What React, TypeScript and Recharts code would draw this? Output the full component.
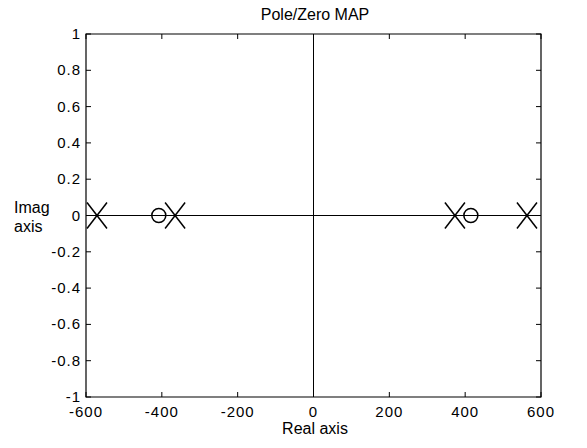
import React from 'react';
import { ScatterChart, Scatter, XAxis, YAxis, ReferenceLine, ReferenceArea } from 'recharts';

const xTicks = [-600, -400, -200, 0, 200, 400, 600];
const yTicks = [-1, -0.8, -0.6, -0.4, -0.2, 0, 0.2, 0.4, 0.6, 0.8, 1];
const poleReal = [-571, -365, 373, 563];
const poleImag = [0, 0, 0, 0];
const zeroReal = [-408, 415];
const zeroImag = [0, 0];
const titleText = 'Pole/Zero MAP';
const xLabelText = 'Real axis';
const yLabelLines = ['Imag', 'axis'];

const poles = poleReal.map((x, i) => ({ x, y: poleImag[i] }));
const zeros = zeroReal.map((x, i) => ({ x, y: zeroImag[i] }));

const W = 587;
const H = 448;
const M_TOP = 34;
const M_RIGHT = 46;
const Y_AXIS_W = 86;
const X_AXIS_H = 51;
const PLOT_TOP = M_TOP;
const PLOT_RIGHT = W - M_RIGHT;
const FONT = "'Liberation Sans', Arial, Helvetica, sans-serif";
const TICK_LEN = 5;
const fmt = (v: number) => String(v);

const BottomTick = (p: any) => (
  <g>
    <line x1={p.x} y1={p.y} x2={p.x} y2={p.y - TICK_LEN} stroke="#000" strokeWidth={1} />
    <line x1={p.x} y1={PLOT_TOP} x2={p.x} y2={PLOT_TOP + TICK_LEN} stroke="#000" strokeWidth={1} />
    <text x={p.x} y={p.y + 20} textAnchor="middle" fontFamily={FONT} fontSize={15} letterSpacing={1} fill="#000">
      {fmt(p.payload.value)}
    </text>
  </g>
);
const LeftTick = (p: any) => (
  <g>
    <line x1={p.x} y1={p.y} x2={p.x + TICK_LEN} y2={p.y} stroke="#000" strokeWidth={1} />
    <line x1={PLOT_RIGHT} y1={p.y} x2={PLOT_RIGHT - TICK_LEN} y2={p.y} stroke="#000" strokeWidth={1} />
    <text x={p.x - 5} y={p.y + 5} textAnchor="end" fontFamily={FONT} fontSize={15} letterSpacing={1} fill="#000">
      {fmt(p.payload.value)}
    </text>
  </g>
);

const PoleShape = (p: any) => (
  <g>
    <line x1={p.cx - 10} y1={p.cy - 13} x2={p.cx + 10} y2={p.cy + 13} stroke="#000" strokeWidth={1.5} />
    <line x1={p.cx - 10} y1={p.cy + 13} x2={p.cx + 10} y2={p.cy - 13} stroke="#000" strokeWidth={1.5} />
  </g>
);
const ZeroShape = (p: any) => (
  <circle cx={p.cx} cy={p.cy} r={7} fill="none" stroke="#000" strokeWidth={1.5} />
);

export default function App() {
  return (
    <div style={{ position: 'absolute', left: 0, top: 0, width: W, height: H, background: '#fff' }}>
      <ScatterChart width={W} height={H} margin={{ top: M_TOP, right: M_RIGHT, bottom: 0, left: 0 }}>
        <XAxis
          xAxisId="b"
          dataKey="x"
          type="number"
          orientation="bottom"
          domain={[-600, 600]}
          ticks={xTicks}
          interval={0}
          allowDataOverflow
          height={X_AXIS_H}
          tickSize={0}
          tickMargin={0}
          tickLine={false}
          tick={BottomTick}
          axisLine={false}
        />
        <YAxis
          yAxisId="l"
          dataKey="y"
          type="number"
          orientation="left"
          domain={[-1, 1]}
          ticks={yTicks}
          interval={0}
          allowDataOverflow
          width={Y_AXIS_W}
          tickSize={0}
          tickMargin={0}
          tickLine={false}
          tick={LeftTick}
          axisLine={false}
        />
        <ReferenceArea
          xAxisId="b"
          yAxisId="l"
          x1={-600}
          x2={600}
          y1={-1}
          y2={1}
          fill="none"
          fillOpacity={0}
          stroke="#000"
          strokeWidth={1.2}
          ifOverflow="visible"
        />
        <ReferenceLine xAxisId="b" yAxisId="l" x={0} stroke="#000" strokeWidth={1} />
        <ReferenceLine xAxisId="b" yAxisId="l" y={0} stroke="#000" strokeWidth={1} />
        <Scatter xAxisId="b" yAxisId="l" data={poles} shape={PoleShape} isAnimationActive={false} />
        <Scatter xAxisId="b" yAxisId="l" data={zeros} shape={ZeroShape} isAnimationActive={false} />
      </ScatterChart>
      <svg
        width={W}
        height={H}
        style={{ position: 'absolute', left: 0, top: 0, pointerEvents: 'none' }}
      >
        <text x={315} y={20} textAnchor="middle" fontFamily={FONT} fontSize={16} fill="#000">
          {titleText}
        </text>
        <text x={315} y={434} textAnchor="middle" fontFamily={FONT} fontSize={16} fill="#000">
          {xLabelText}
        </text>
        <text x={14} y={213} fontFamily={FONT} fontSize={16} fill="#000">
          {yLabelLines[0]}
        </text>
        <text x={14} y={232} fontFamily={FONT} fontSize={16} fill="#000">
          {yLabelLines[1]}
        </text>
      </svg>
    </div>
  );
}
